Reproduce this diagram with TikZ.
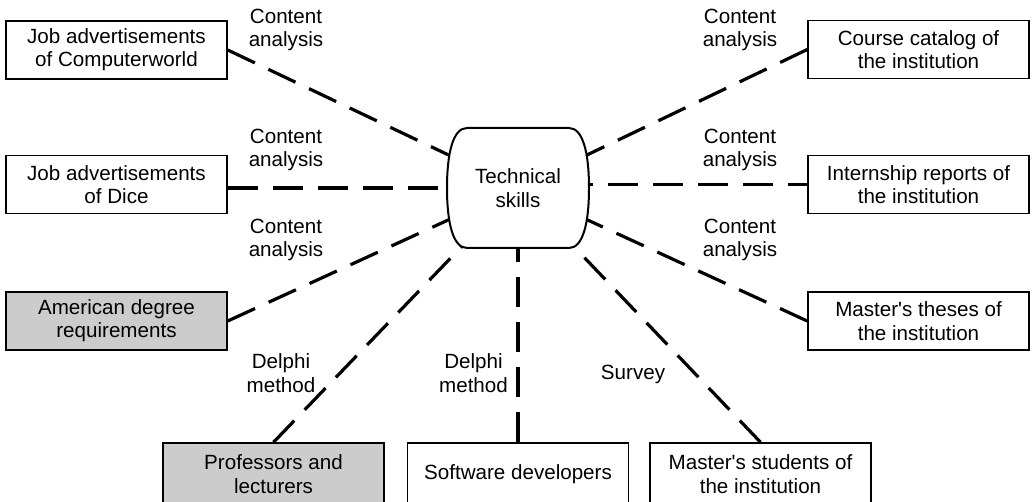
\documentclass[tikz,border=0pt]{standalone}
\usepackage{fontspec}
\setmainfont{Liberation Sans}
\usetikzlibrary{calc,backgrounds}
\begin{document}
\begin{tikzpicture}[x=1pt,y=-1pt,
  every node/.style={font=\fontsize{20.6}{23.3}\selectfont, align=center, inner sep=0pt},
  src/.style={draw, line width=1.5pt, fill=white, minimum width=221pt, minimum height=58pt},
  srcgray/.style={src, fill=black!20},
  link/.style={line width=3.2pt, dash pattern=on 30pt off 15pt},
  hub/.style={line width=2pt, fill=white}]
\useasboundingbox (0,0) rectangle (1033,502);

% data sources
\node[src] (cw) at (116.5,50) {Job advertisements\\of Computerworld};
\node[src] (dice) at (116.5,184.5) {Job advertisements\\of Dice};
\node[srcgray] (adr) at (116.5,321) {American degree\\requirements};
\node[srcgray, minimum height=62pt] (prof) at (273.5,474) {Professors and\\lecturers};
\node[src, minimum height=62pt] (dev) at (518,474) {Software developers};
\node[src, minimum height=62pt] (stu) at (760.5,474) {Master\textquotesingle s students of\\the institution};
\node[src] (cat) at (918.5,49.5) {Course catalog of\\the institution};
\node[src] (intern) at (918.5,184.5) {Internship reports of\\the institution};
\node[src] (thes) at (918.5,321) {Master\textquotesingle s theses of\\the institution};

% central topic
\node (ts) at (518,188) {Technical\\skills};

% methods
\node (m1) at (286,30) {Content\\analysis};
\node (m2) at (286,150) {Content\\analysis};
\node (m3) at (286,240) {Content\\analysis};
\node (m4) at (740,30) {Content\\analysis};
\node (m5) at (740,150) {Content\\analysis};
\node (m6) at (740,240) {Content\\analysis};
\node (m7) at (281,373) {Delphi\\method};
\node (m8) at (473.5,373) {Delphi\\method};
\node (m9) at (633,374) {Survey};

\begin{scope}[on background layer]
  \draw[link] (cw.east) -- (ts.center);
  \draw[link] (dice.east |- ts.center) -- (ts.center);
  \draw[link] (adr.east) -- (ts.center);
  \draw[link] (prof.north) -- (ts.center);
  \draw[link] (dev.north) -- (ts.center);
  \draw[link] (stu.north) -- (ts.center);
  \draw[link] (cat.west) -- (ts.center);
  \draw[link] (ts.center |- intern.west) -- (intern.west);
  \draw[link] (thes.west) -- (ts.center);
  % barrel-shaped outline of the central topic
  \draw[hub, shift={(ts.center)}]
    (-51,-60) -- (51,-60)
    .. controls (65,-60) and (71,-35) .. (71,0)
    .. controls (71,35) and (65,60) .. (51,60)
    -- (-51,60)
    .. controls (-65,60) and (-71,35) .. (-71,0)
    .. controls (-71,-35) and (-65,-60) .. cycle;
\end{scope}
\end{tikzpicture}
\end{document}
